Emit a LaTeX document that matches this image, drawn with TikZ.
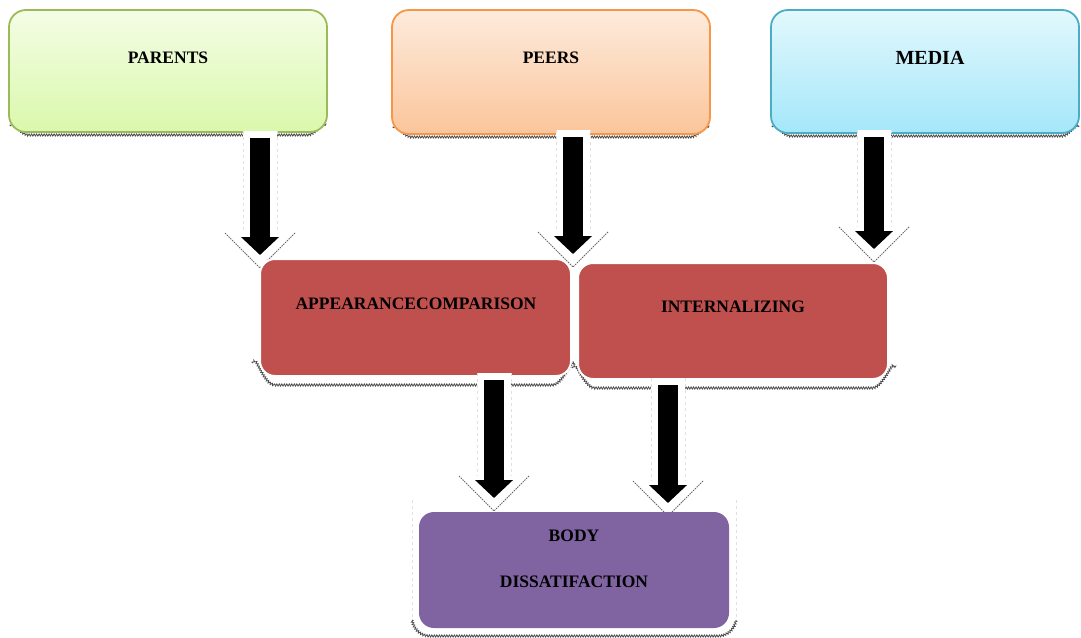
\documentclass[tikz,border=0pt]{standalone}
\usepackage{fontspec}
\setmainfont{Liberation Serif}
\usetikzlibrary{arrows.meta,decorations.pathmorphing}
\definecolor{pgreen}{HTML}{9BBB59}
\definecolor{ptop}{HTML}{F4FDE6}
\definecolor{pbot}{HTML}{DAF8AC}
\definecolor{porange}{HTML}{F79646}
\definecolor{otop}{HTML}{FDEBDC}
\definecolor{obot}{HTML}{FBC59B}
\definecolor{pblue}{HTML}{4BACC6}
\definecolor{btop}{HTML}{E2F8FD}
\definecolor{bbot}{HTML}{A5E7FA}
\definecolor{boxred}{HTML}{C0504D}
\definecolor{boxpurple}{HTML}{8064A2}
\newcommand\bigarr[4]{%
  \coordinate (#1s) at (#2,#3);
  \coordinate (#1e) at (#2,#4);
  \draw[halo] ([yshift=7pt]#1s) -- ([yshift=-13pt]#1e);
  \draw[haloside] (#2-17,#3-7) -- (#2-17,#4-22);
  \draw[haloside] (#2+17,#3-7) -- (#2+17,#4-22);
  \draw[haloedge] ([shift={(-35pt,22pt)}]#1e) -- ([yshift=-13pt]#1e) -- ([shift={(35pt,22pt)}]#1e);
  \draw[fat] (#1s) -- (#1e);
}
\begin{document}
\begin{tikzpicture}[x=1pt,y=-1pt,
  tbox/.style={draw, line width=1.8pt, rounded corners=17pt, inner sep=0pt},
  rbox/.style={fill=boxred, rounded corners=15pt, inner sep=0pt},
  lbl/.style={font=\bfseries\fontsize{17.5}{20}\selectfont, inner sep=0pt},
  shadowline/.style={draw=black!70, line width=0.8pt, decorate,
    decoration={zigzag, segment length=2.5pt, amplitude=1.1pt}},
  halo/.style={white, line width=34pt, -{Triangle[width=70pt,length=35pt]}},
  fat/.style={black, line width=20pt, -{Triangle[width=37pt,length=18pt]}},
  haloedge/.style={draw=black!60, line width=0.9pt, dash pattern=on 1.5pt off 1pt},
  haloside/.style={draw=black!12, line width=0.5pt, dashed}]
\useasboundingbox (0,0) rectangle (1081,637);

% shadows of top boxes
\draw[shadowline] (11,126) to[out=80,in=180] (28,135) -- (308,135) to[out=0,in=100] (325,126);
\draw[shadowline] (394,128) to[out=80,in=180] (411,137) -- (691,137) to[out=0,in=100] (708,128);
\draw[shadowline] (773,127) to[out=80,in=180] (790,136) -- (1062,136) to[out=0,in=100] (1079,127);

% top boxes
\node[tbox, draw=pgreen, top color=ptop, bottom color=pbot,
  minimum width=318pt, minimum height=122pt] (parents) at (168,71) {};
\node[tbox, draw=porange, top color=otop, bottom color=obot,
  minimum width=318pt, minimum height=124pt] (peers) at (551,72) {};
\node[tbox, draw=pblue, top color=btop, bottom color=bbot,
  minimum width=308pt, minimum height=123pt] (media) at (925,71.5) {};
\node[lbl] at (168,58) {PARENTS};
\node[lbl] at (551,58) {PEERS};
\node[lbl, font=\bfseries\fontsize{20}{22}\selectfont] at (930,58) {MEDIA};

% arrows from top row
\bigarr{a}{260}{138}{255}
\bigarr{b}{573}{137}{254}
\bigarr{c}{874}{137}{249}

% shadows of middle boxes
\draw[shadowline] (253,363) to[out=80,in=180] (275,385) -- (552,385) to[out=0,in=100] (575,365);
\draw[shadowline] (573,368) to[out=80,in=180] (595,388) -- (872,388) to[out=0,in=100] (895,368);

% middle boxes
\node[rbox, draw=white, line width=2pt, minimum width=311pt, minimum height=117pt] (apc) at (415.5,317.5) {};
\node[rbox, draw=white, line width=2pt, minimum width=310pt, minimum height=116pt] (int) at (733,321) {};
\node[lbl] at (416,304) {APPEARANCECOMPARISON};
\node[lbl] at (733,307) {INTERNALIZING};

% arrows to bottom box
\bigarr{d}{494}{380}{498}
\bigarr{e}{668}{385}{503}

% shadow of bottom box
\draw[haloside] (412,500) -- (412,620);
\draw[haloside] (736,500) -- (736,620);
\draw[shadowline] (412,620) to[out=-80,in=180] (430,636) -- (718,636) to[out=0,in=-100] (736,620);

% bottom box
\node[rbox, fill=boxpurple, minimum width=310pt, minimum height=116pt] (body) at (574,570) {};
\node[lbl] at (574,536) {BODY};
\node[lbl] at (574,582) {DISSATIFACTION};
\end{tikzpicture}
\end{document}
